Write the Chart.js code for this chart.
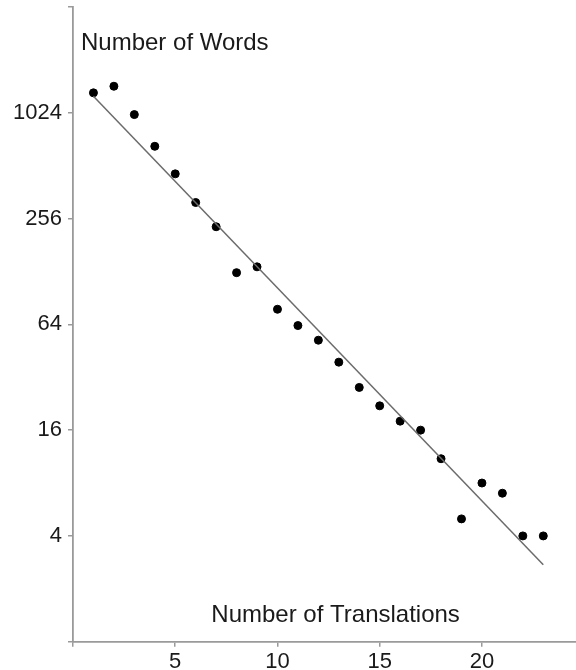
<!DOCTYPE html>
<html>
<head>
<meta charset="utf-8">
<script src="https://cdn.jsdelivr.net/npm/chart.js@4/dist/chart.umd.min.js"></script>
<style>
  html, body { margin: 0; padding: 0; background: #fff; overflow: hidden; }
  #wrap { width: 576px; height: 670px; position: relative; overflow: hidden; }
  #c { display: block; }
</style>
</head>
<body>
<div id="wrap"><canvas id="c" width="581" height="670"></canvas></div>
<script>
// Data
const translations = [1, 2, 3, 4, 5, 6, 7, 8, 9, 10, 11, 12, 13, 14, 15, 16, 17, 18, 19, 20, 21, 22, 23];
const words = [1330, 1450, 1000, 660, 460, 316, 230, 126, 136, 78, 63, 52, 39, 28, 22, 18, 16, 11, 5, 8, 7, 4, 4];
const fitX = [1, 23];
const fitY = [1273, 2.74];
const xTickValues = [0, 5, 10, 15, 20];
const xTickLabels = ['', '5', '10', '15', '20'];
const yTickValues = [1, 4, 16, 64, 256, 1024, 4096];
const yTickLabels = ['', '4', '16', '64', '256', '1024', ''];
const yAxisTitle = 'Number of Words';
const xAxisTitle = 'Number of Translations';

const FONT = 'Arial, "Liberation Sans", Helvetica, sans-serif';
const AXIS_COLOR = '#9a9a9a';

const titlesPlugin = {
  id: 'titles',
  afterDraw(chart) {
    const ctx = chart.ctx;
    const xs = chart.scales.x, ys = chart.scales.y;
    ctx.save();
    ctx.fillStyle = '#1a1a1a';
    ctx.font = '24px ' + FONT;
    ctx.textBaseline = 'middle';
    ctx.textAlign = 'left';
    ctx.fillText(yAxisTitle, xs.left + 8, ys.top + 36);
    ctx.textAlign = 'center';
    ctx.fillText(xAxisTitle, (xs.getPixelForValue(5) + xs.getPixelForValue(20)) / 2 + 7, ys.bottom - 26);
    ctx.restore();
  }
};

new Chart(document.getElementById('c'), {
  type: 'scatter',
  data: {
    datasets: [
      {
        label: 'fit',
        type: 'line',
        data: fitX.map((x, i) => ({ x: x, y: fitY[i] })),
        borderColor: '#6b6b6b',
        borderWidth: 1.5,
        pointRadius: 0,
        fill: false
      },
      {
        label: 'words',
        data: translations.map((x, i) => ({ x: x, y: words[i] })),
        backgroundColor: '#000',
        borderColor: '#000',
        pointRadius: 4,
        pointHoverRadius: 4
      }
    ]
  },
  options: {
    responsive: false,
    animation: false,
    events: [],
    layout: { padding: { top: 7, left: 0, right: 0, bottom: 0 } },
    plugins: { legend: { display: false }, tooltip: { enabled: false }, title: { display: false } },
    scales: {
      x: {
        type: 'linear',
        min: 0,
        max: 24.6,
        afterBuildTicks(s) { s.ticks = xTickValues.map(v => ({ value: v })); },
        afterFit(s) { s.height = 28.3; s.paddingLeft = 0; s.paddingRight = 0; },
        ticks: {
          autoSkip: false,
          maxRotation: 0,
          padding: 2,
          color: '#1a1a1a',
          font: { family: FONT, size: 22 },
          callback(v) { const i = xTickValues.indexOf(v); return i >= 0 ? xTickLabels[i] : ''; }
        },
        grid: { drawOnChartArea: false, drawTicks: true, tickLength: 5, color: AXIS_COLOR, lineWidth: 1.5 },
        border: { display: true, color: AXIS_COLOR, width: 1.8 }
      },
      y: {
        type: 'logarithmic',
        min: 1,
        max: 4096,
        afterBuildTicks(s) { s.ticks = yTickValues.map(v => ({ value: v })); },
        afterFit(s) { s.width = 73; s.paddingTop = 0; s.paddingBottom = 0; },
        ticks: {
          autoSkip: false,
          padding: 6,
          color: '#1a1a1a',
          font: { family: FONT, size: 22 },
          callback(v) { const i = yTickValues.indexOf(v); return i >= 0 ? yTickLabels[i] : ''; }
        },
        grid: { drawOnChartArea: false, drawTicks: true, tickLength: 5, color: AXIS_COLOR, lineWidth: 1.5 },
        border: { display: true, color: AXIS_COLOR, width: 1.8 }
      }
    }
  },
  plugins: [titlesPlugin]
});
</script>
</body>
</html>
